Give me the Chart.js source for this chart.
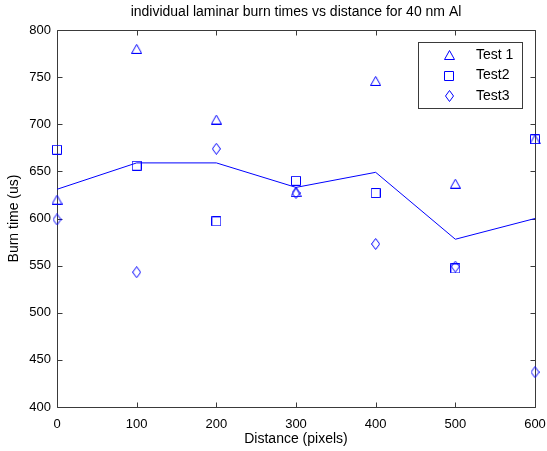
<!DOCTYPE html>
<html><head><meta charset="utf-8">
<script src="https://cdn.jsdelivr.net/npm/chart.js@4/dist/chart.umd.min.js"></script>
<style>html,body{margin:0;padding:0;background:#fff}#wrap{width:547px;height:451px}</style>
</head><body><div id="wrap"><canvas id="c" width="547" height="451"></canvas></div>
<script>
// ---- data ----
const distances = [0, 100, 200, 300, 400, 500, 600];
const test1 = [620, 780, 705, 628, 746, 637, 684];
const test2 = [673, 656, 597, 640, 627, 547, 684];
const test3 = [599, 543, 674, 627, 573, 549, 437];
const meanLine = [631, 659, 659, 633, 649, 578, 600];
const xTicks = [0, 100, 200, 300, 400, 500, 600];
const yTicks = [400, 450, 500, 550, 600, 650, 700, 750, 800];
const seriesLabels = ['Test 1', 'Test2', 'Test3'];
const titleText = 'individual laminar burn times vs distance for 40 nm Al';
const xLabel = 'Distance (pixels)';
const yLabel = 'Burn time (us)';

const FONT = '"Liberation Sans", Arial, sans-serif';
const BLUE = '#0000ff';
const AXIS = '#3a3a3a';

function marker(kind) {
  const c = document.createElement('canvas');
  let w, h;
  if (kind === 'tri') { w = 11; h = 10; }
  else if (kind === 'sq') { w = 10; h = 10; }
  else { w = 9; h = 12; }
  c.width = w; c.height = h;
  const g = c.getContext('2d');
  g.strokeStyle = BLUE; g.lineWidth = 1;
  g.beginPath();
  if (kind === 'tri') {
    g.moveTo(5.5, 0.5); g.lineTo(10.5, 9.5); g.lineTo(0.5, 9.5); g.closePath();
  } else if (kind === 'sq') {
    g.rect(0.5, 0.5, 9, 9);
  } else {
    g.moveTo(4.5, 0.5); g.lineTo(8.5, 6); g.lineTo(4.5, 11.5); g.lineTo(0.5, 6); g.closePath();
  }
  g.stroke();
  return c;
}
const mk = [marker('tri'), marker('sq'), marker('dia')];

const pts = arr => distances.map((d, i) => ({ x: d, y: arr[i] }));

const decor = {
  id: 'decor',
  beforeDatasetsDraw(chart) {
    const { ctx, chartArea: a, scales } = chart;
    const xs = scales.x, ys = scales.y;
    ctx.save();
    ctx.strokeStyle = AXIS; ctx.lineWidth = 1;
    const L = Math.round(a.left) + 0.5, R = Math.round(a.right) + 0.5;
    const T = Math.round(a.top) + 0.5, B = Math.round(a.bottom) + 0.5;
    ctx.beginPath();
    ctx.rect(L, T, R - L, B - T);
    const tl = 5;
    xTicks.forEach(v => {
      const px = Math.round(xs.getPixelForValue(v)) + 0.5;
      ctx.moveTo(px, B); ctx.lineTo(px, B - tl);
      ctx.moveTo(px, T); ctx.lineTo(px, T + tl);
    });
    yTicks.forEach(v => {
      const py = Math.round(ys.getPixelForValue(v)) + 0.5;
      ctx.moveTo(L, py); ctx.lineTo(L + tl, py);
      ctx.moveTo(R, py); ctx.lineTo(R - tl, py);
    });
    ctx.stroke();
    ctx.restore();
  },
  afterDraw(chart) {
    const { ctx, chartArea: a } = chart;
    ctx.save();
    // title & axis titles
    ctx.fillStyle = '#000';
    ctx.font = '14px ' + FONT;
    ctx.textAlign = 'center'; ctx.textBaseline = 'middle';
    ctx.fillText(titleText, (a.left + a.right) / 2, 12);
    ctx.fillText(xLabel, (a.left + a.right) / 2, 439);
    ctx.save();
    ctx.translate(14, (a.top + a.bottom) / 2);
    ctx.rotate(-Math.PI / 2);
    ctx.fillText(yLabel, 0, 0);
    ctx.restore();

    // legend box
    const lx = 418.5, ly = 42.5, lw = 104, lh = 66;
    ctx.fillStyle = '#fff';
    ctx.fillRect(lx, ly, lw, lh);
    ctx.strokeStyle = AXIS; ctx.lineWidth = 1;
    ctx.strokeRect(lx, ly, lw, lh);
    ctx.fillStyle = '#000';
    ctx.textAlign = 'left';
    seriesLabels.forEach((lab, i) => {
      const cy = 55 + i * 20.5;
      const im = mk[i];
      ctx.drawImage(im, Math.round(449 - im.width / 2), Math.round(cy - im.height / 2));
      ctx.fillText(lab, 476, cy);
    });
    ctx.restore();
  }
};

new Chart(document.getElementById('c'), {
  type: 'scatter',
  data: {
    datasets: [
      { type: 'line', label: 'mean', data: pts(meanLine), borderColor: BLUE, borderWidth: 1,
        pointRadius: 0, fill: false, tension: 0, order: 2 },
      { label: seriesLabels[0], data: pts(test1), pointStyle: mk[0], order: 1, clip: false },
      { label: seriesLabels[1], data: pts(test2), pointStyle: mk[1], order: 1, clip: false },
      { label: seriesLabels[2], data: pts(test3), pointStyle: mk[2], order: 1, clip: false }
    ]
  },
  options: {
    responsive: false,
    animation: false,
    devicePixelRatio: 1,
    layout: { padding: { top: 30, right: 12, left: 0, bottom: 0 } },
    plugins: { legend: { display: false }, title: { display: false }, tooltip: { enabled: false } },
    scales: {
      x: {
        type: 'linear', min: 0, max: 600,
        afterFit: s => { s.height = 44; s.paddingLeft = 0; s.paddingRight = 0; },
        afterBuildTicks: s => { s.ticks = xTicks.map(v => ({ value: v })); },
        grid: { display: false, drawTicks: false },
        border: { display: false },
        ticks: { color: '#000', font: { family: FONT, size: 13 }, padding: 10, maxRotation: 0 }
      },
      y: {
        type: 'linear', min: 400, max: 800,
        afterFit: s => { s.width = 57; s.paddingTop = 0; s.paddingBottom = 0; },
        afterBuildTicks: s => { s.ticks = yTicks.map(v => ({ value: v })); },
        grid: { display: false, drawTicks: false },
        border: { display: false },
        ticks: { color: '#000', font: { family: FONT, size: 13 }, padding: 6 }
      }
    }
  },
  plugins: [decor]
});
</script>
</body></html>
